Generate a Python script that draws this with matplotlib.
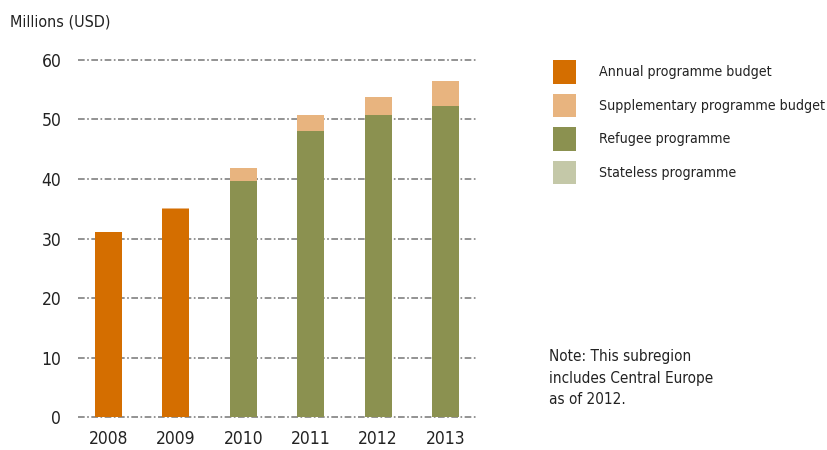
import matplotlib.pyplot as plt
import numpy as np

plt.rcParams['font.family'] = ['DejaVu Sans']
plt.rcParams['font.stretch'] = 'condensed'

years = ['2008', '2009', '2010', '2011', '2012', '2013']
annual = [31.1, 35.0, 0, 0, 0, 0]
supp_annual = [0, 0.1, 0, 0, 0, 0]
refugee = [0, 0, 39.7, 48.0, 50.7, 52.3]
supp_refugee = [0, 0, 2.2, 2.8, 3.1, 4.2]
stateless = [0, 0, 0, 0, 0, 0]

c_annual = '#d46e00'
c_supp = '#e8b47f'
c_ref = '#8b9150'
c_state = '#c4c8a8'

fig = plt.figure(figsize=(8.28, 4.5), dpi=100)
ax = fig.add_axes([0.0942, 0.0733, 0.4831, 0.7934])

x = np.arange(len(years))
w = 0.4
a = np.array(annual)
r = np.array(refugee)
base = a + r
h1 = ax.bar(x, a, w, color=c_annual, zorder=3, label='Annual programme budget')
ax.bar(x, r, w, color=c_ref, zorder=3)
h2 = ax.bar(x, np.array(supp_annual) + np.array(supp_refugee), w, bottom=base,
            color=c_supp, zorder=3, label='Supplementary programme budget')
h3 = ax.bar(x, r * 0, w, color=c_ref, zorder=3, label='Refugee programme')
h4 = ax.bar(x, stateless, w, bottom=base, color=c_state, zorder=3, label='Stateless programme')

ax.set_xlim(-0.45, 5.48)
ax.set_ylim(0, 60)
ax.set_yticks(range(0, 61, 10))
ax.set_xticks(x)
ax.set_xticklabels(years)
for s in ax.spines.values():
    s.set_visible(False)
ax.tick_params(length=0, labelsize=12.5, colors='#222222')
ax.tick_params(axis='y', pad=12)
ax.tick_params(axis='x', pad=9)
ax.grid(axis='y', color='#808080', linestyle=(0, (4, 1.5, 1, 1.5)), linewidth=1.2, zorder=0)
ax.set_axisbelow(True)
for gl in ax.get_ygridlines():
    gl.set_clip_on(False)

fig.text(0.012, 0.951, 'Millions (USD)', fontsize=11.5, color='#222222', va='center', ha='left')

fig.legend(handles=[h1, h2, h3, h4], loc='upper left', bbox_to_anchor=(0.668, 0.866),
           frameon=False, fontsize=10.2, borderpad=0, borderaxespad=0,
           handlelength=1.62, handleheight=2.15, handletextpad=1.65,
           labelspacing=0.72, labelcolor='#222222')

fig.text(0.663, 0.16, 'Note: This subregion\nincludes Central Europe\nas of 2012.',
         fontsize=11, color='#222222', va='center', ha='left', linespacing=1.55)

fig.savefig('out.png', dpi=100)
